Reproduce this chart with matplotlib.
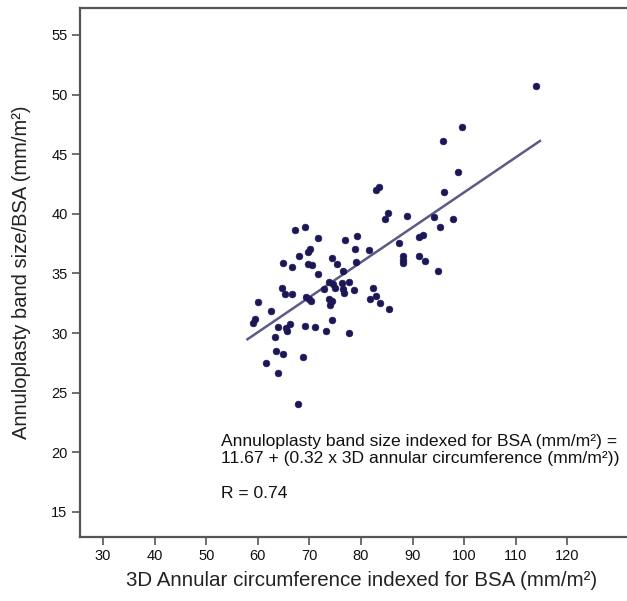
import matplotlib
matplotlib.use("Agg")
import matplotlib.pyplot as plt

plt.rcParams['font.family'] = ['Liberation Sans', 'DejaVu Sans']

# Data
circ_x = [113.97, 99.63, 95.89, 98.74, 96.09, 83.49, 82.91, 85.17, 84.59, 88.97,
          94.15, 97.77, 95.37, 87.46, 91.28, 92.07, 88.24, 88.24, 88.14, 91.30,
          92.50, 94.92, 67.31, 69.15, 71.76, 76.90, 79.32, 78.93, 81.55, 70.12,
          69.79, 67.98, 74.42, 75.39, 79.03, 64.83, 66.63, 69.79, 70.50, 71.76,
          76.51, 73.80, 74.52, 74.92, 76.26, 77.73, 76.61, 76.74, 78.68, 72.87,
          82.27, 83.00, 81.84, 83.68, 85.48, 64.69, 65.21, 66.72, 69.44, 69.98,
          70.41, 73.80, 74.38, 73.99, 60.10, 62.52, 59.46, 59.01, 63.97, 65.47,
          66.24, 65.70, 69.15, 71.03, 74.38, 73.22, 77.67, 63.43, 63.47, 64.94,
          68.70, 61.59, 63.95, 67.79]
band_y = [50.70, 47.29, 46.09, 43.52, 41.81, 42.22, 41.97, 40.05, 39.60, 39.83,
          39.74, 39.60, 38.93, 37.56, 38.04, 38.21, 36.48, 36.16, 35.91, 36.48,
          36.08, 35.22, 38.65, 38.91, 38.01, 37.84, 38.13, 37.05, 36.98, 37.02,
          36.77, 36.43, 36.33, 35.80, 35.96, 35.87, 35.51, 35.83, 35.72, 34.99,
          35.18, 34.32, 34.13, 33.77, 34.24, 34.30, 33.69, 33.40, 33.61, 33.71,
          33.75, 33.10, 32.87, 32.54, 31.99, 33.77, 33.26, 33.26, 33.00, 32.85,
          32.66, 32.85, 32.70, 32.38, 32.60, 31.89, 31.22, 30.82, 30.48, 30.44,
          30.78, 30.21, 30.59, 30.52, 31.11, 30.21, 29.98, 29.67, 28.51, 28.28,
          28.03, 27.48, 26.64, 24.07]

# Fitted line end points as drawn
fit_x = [58.0, 114.7]
fit_y = [29.48, 46.11]

x_ticks = [30, 40, 50, 60, 70, 80, 90, 100, 110, 120]
y_ticks = [15, 20, 25, 30, 35, 40, 45, 50, 55]

W, H = 627, 601
fig = plt.figure(figsize=(W / 100, H / 100), dpi=100)
ax = fig.add_axes([80 / W, (H - 537) / H, (640 - 80) / W, (537 - 8) / H])

ax.scatter(circ_x, band_y, s=24, color='#1c1858', edgecolors='#1c1858',
           linewidths=0.4, zorder=3)
ax.plot(fit_x, fit_y, color='#5c5a86', lw=1.8, zorder=2)

ax.set_xlim(25.54, 134.1)
ax.set_ylim(12.90, 57.26)
ax.set_xticks(x_ticks)
ax.set_yticks(y_ticks)

for side in ['left', 'bottom', 'top']:
    ax.spines[side].set_color('#555555')
    ax.spines[side].set_linewidth(1.6)
ax.spines['right'].set_visible(False)

ax.tick_params(axis='both', direction='out', length=6, width=1.2,
               color='#555555', labelsize=10.5, labelcolor='#111111', pad=3)

fig.text(22 / W, 1 - 272 / H, 'Annuloplasty band size/BSA (mm/m²)',
         rotation=90, ha='center', va='center', fontsize=14.5, color='#222222')
fig.text(362 / W, 1 - 581 / H, '3D Annular circumference indexed for BSA (mm/m²)',
         ha='center', va='center', fontsize=14.8, color='#222222')

fig.text(221 / W, 1 - 450 / H,
         'Annuloplasty band size indexed for BSA (mm/m²) =\n'
         '11.67 + (0.32 x 3D annular circumference (mm/m²))',
         ha='left', va='center', fontsize=12.6, color='#111111', linespacing=1.15)
fig.text(221 / W, 1 - 494 / H, 'R = 0.74', ha='left', va='center',
         fontsize=12.6, color='#111111')

fig.savefig('out.png', dpi=100)
